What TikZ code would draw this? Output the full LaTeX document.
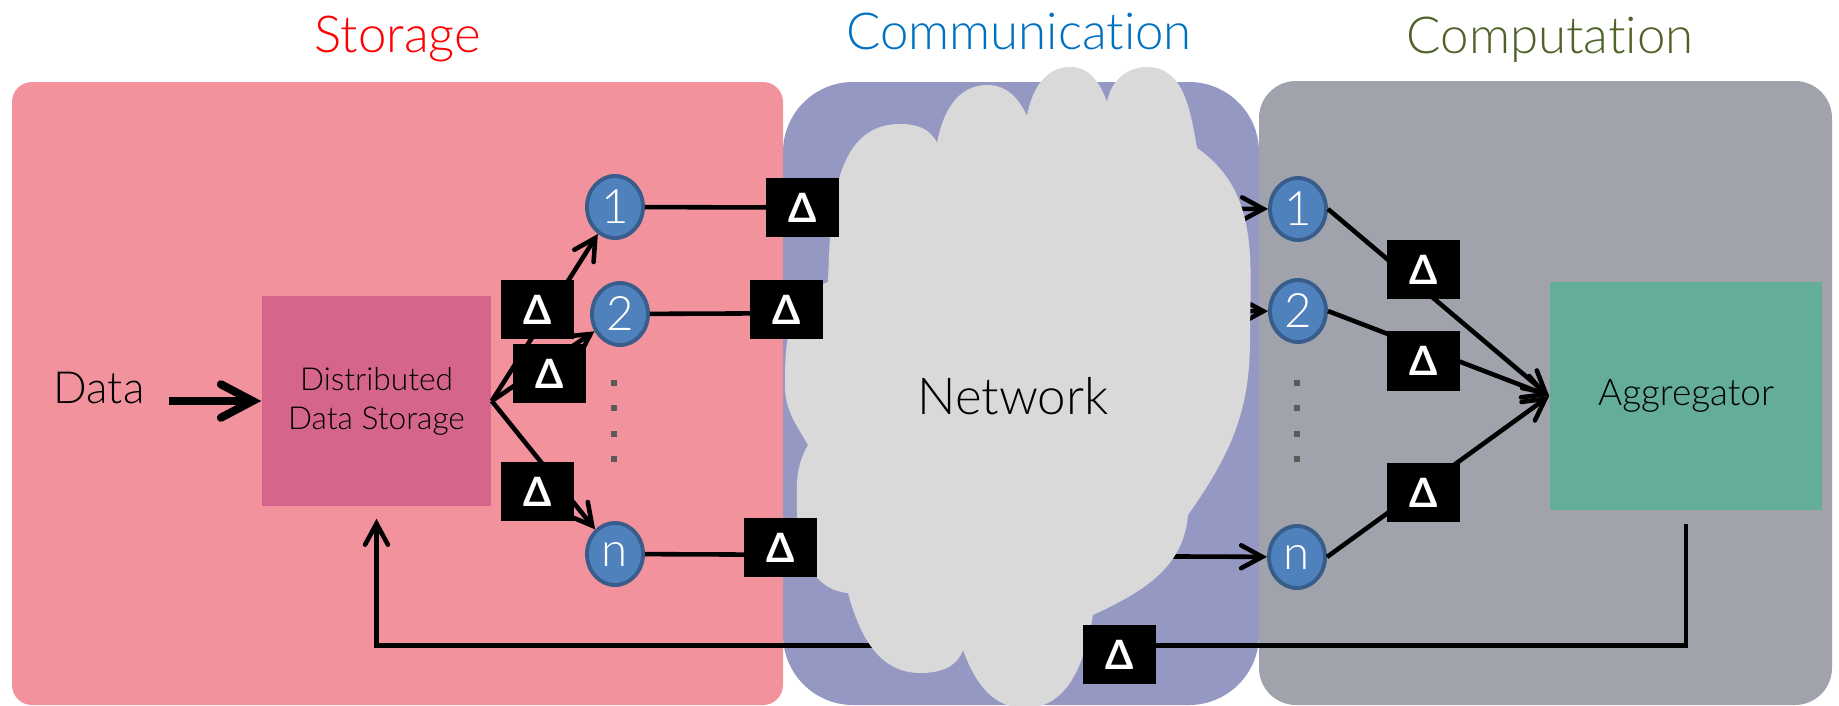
\documentclass[tikz,border=0pt]{standalone}
\usepackage{fontspec}
\setmainfont{Lato Light}[Ligatures={NoCommon,NoContextual,NoRare}]
\newfontfamily\deltafont{Lato}
\usetikzlibrary{positioning,shapes.geometric,arrows.meta}

\definecolor{storepink}{RGB}{241,146,157}
\definecolor{storebox}{RGB}{213,101,138}
\definecolor{commblue}{RGB}{150,152,196}
\definecolor{compgray}{RGB}{160,163,172}
\definecolor{cloudgray}{RGB}{217,217,217}
\definecolor{agggreen}{RGB}{100,173,152}
\definecolor{nodefill}{RGB}{79,129,189}
\definecolor{nodeedge}{RGB}{56,93,138}
\definecolor{titleblue}{RGB}{0,112,192}
\definecolor{titlegreen}{RGB}{79,98,40}
\definecolor{dotgray}{RGB}{90,90,90}

\begin{document}
\begin{tikzpicture}[x=0.01cm,y=0.01cm,
    title/.style={anchor=base,font=\fontsize{14.5}{17}\selectfont},
    worker/.style={ellipse,fill=nodefill,draw=nodeedge,line width=1.1pt,
      minimum width=0.56cm,minimum height=0.62cm,inner sep=0pt,
      text=white,font=\fontsize{13.5}{16}\selectfont},
    delta/.style={fill=black,minimum width=0.73cm,minimum height=0.59cm,
      inner sep=0pt,text=white,font=\deltafont\bfseries\fontsize{11.5}{13}\selectfont},
    flow/.style={line width=1.3pt,
      -{Straight Barb[length=6pt,width=6.5pt,line cap=round]}},
    bigflow/.style={line width=2.3pt,
      -{Straight Barb[length=9pt,width=9.5pt,line cap=round]}}]

  \useasboundingbox (0,0) rectangle (1839,-706);

  % the three areas
  \fill[storepink,rounded corners=0.2cm] (12,-82) rectangle (783,-705);
  \fill[commblue,rounded corners=0.7cm] (783,-82) rectangle (1259,-705);
  \fill[compgray,rounded corners=0.37cm] (1259,-81) rectangle (1832,-705);

  \node[title,text=red] (storetitle) at (398,-52) {Storage};
  \node[title,text=titleblue] (commtitle) at (1019,-50) {Communication};
  \node[title,text=titlegreen] (comptitle) at (1550,-54) {Computation};

  \node[font=\fontsize{12.6}{15}\selectfont] (data) at (99,-388) {Data};
  \node[fill=storebox,minimum width=2.29cm,minimum height=2.1cm,align=center,
        font=\fontsize{9}{11.1}\selectfont] (store) at (376.5,-401)
        {Distributed\\Data Storage};
  \node[fill=agggreen,minimum width=2.72cm,minimum height=2.28cm,
        font=\fontsize{10.5}{12}\selectfont] (agg) at (1686,-396) {Aggregator};

  % workers
  \node[worker] (L1) at (615,-207) {1};
  \node[worker] (L2) at (620,-314) {2};
  \node[worker] (Ln) at (615,-554) {n};
  \node[worker] (R1) at (1298,-209) {1};
  \node[worker] (R2) at (1298,-311) {2};
  \node[worker] (Rn) at (1297,-557) {n};

  \foreach \y in {383,408,434,459} {
    \fill[dotgray] (614,-\y) +(-3,-3) rectangle +(3,3);
    \fill[dotgray] (1297,-\y) +(-3,-3) rectangle +(3,3);
  }

  % connectors
  \draw[bigflow,shorten <=0.12cm] (data.east |- store.west) -- (store.west);
  \draw[flow] (store.east) -- (L1);
  \draw[flow] (store.east) -- (L2);
  \draw[flow] (store.east) -- (Ln);
  \draw[flow] (L1) -- (R1);
  \draw[flow] (L2) -- (R2);
  \draw[flow] (Ln) -- (Rn);
  \draw[flow] (R1.east) -- (agg.west);
  \draw[flow] (R2.east) -- (agg.west);
  \draw[flow] (Rn.east) -- (agg.west);
  \draw[flow,shorten <=0.13cm,shorten >=0.12cm]
    (agg.south) -- ++(0,-135) -| (store.south);

  % network cloud
  \fill[cloudgray] (828,-282) to[out=88,in=180] (900,-124)
    to[out=0,in=115] (937,-143) to[out=80,in=180] (987,-85)
    to[out=0,in=115] (1027,-116) to[out=80,in=180] (1070,-67)
    to[out=0,in=110] (1107,-102) to[out=80,in=180] (1147,-67)
    to[out=0,in=100] (1197,-148) to[out=-35,in=90] (1250,-340)
    to[out=-90,in=55] (1188,-515) to[out=-95,in=25] (1093,-615)
    to[out=-100,in=0] (1025,-708) to[out=180,in=-70] (963,-650)
    to[out=-110,in=0] (920,-673) to[out=180,in=-75] (848,-593)
    to[out=175,in=-90] (797,-515) to[out=90,in=-120] (808,-445)
    to[out=120,in=-90] (785,-385) to[out=90,in=-160] cycle;
  \node[title] (net) at (1013,-414) {Network};

  % deltas
  \node[delta] (dA) at (537.5,-309.5) {Δ};
  \node[delta] (dB) at (549.5,-373.5) {Δ};
  \node[delta] (dC) at (537.5,-491.5) {Δ};
  \node[delta] (d1) at (802.5,-207.5) {Δ};
  \node[delta] (d2) at (786.5,-309.5) {Δ};
  \node[delta] (dn) at (780.5,-547.5) {Δ};
  \node[delta] (e1) at (1423.5,-269.5) {Δ};
  \node[delta] (e2) at (1423.5,-361) {Δ};
  \node[delta] (en) at (1423.5,-492.5) {Δ};
  \node[delta] (dret) at (1119.5,-654.5) {Δ};

\end{tikzpicture}
\end{document}
